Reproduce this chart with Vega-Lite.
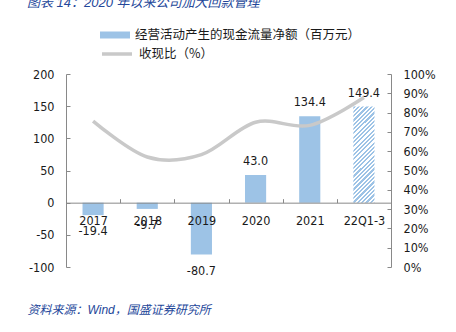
{
  "$schema": "https://vega.github.io/schema/vega-lite/v6.json",
  "width": 325,
  "height": 193,
  "autosize": {"type": "none"},
  "padding": {"left": 66, "top": 74, "right": 65, "bottom": 65},
  "background": "white",
  "title": {
    "text": "图表 14：2020 年以来公司加大回款管理",
    "anchor": "start",
    "orient": "top",
    "frame": "group",
    "dx": -39,
    "offset": 10,
    "font": "Liberation Sans, Noto Sans CJK SC",
    "fontSize": 13,
    "fontStyle": "italic",
    "fontWeight": "normal",
    "color": "#24479A"
  },
  "config": {
    "locale": {"number": {"decimal": ".", "thousands": ",", "grouping": [3], "currency": ["$", ""], "minus": "-"}},
    "view": {"stroke": null},
    "axis": {
      "labelFont": "DejaVu Sans Condensed, DejaVu Sans",
      "labelFontSize": 12.5,
      "labelColor": "#1a1a1a",
      "domainColor": "#898989",
      "tickColor": "#898989",
      "tickSize": -4,
      "labelPadding": 16,
      "grid": false
    },
    "legend": {
      "labelFont": "Noto Sans CJK SC",
      "labelFontSize": 12.5,
      "labelColor": "#1a1a1a",
      "labelLimit": 400,
      "padding": 0
    }
  },
  "data": {
    "values": [
      {"period": "2017", "cash": -19.4, "ratio": 0.756},
      {"period": "2018", "cash": -9.7, "ratio": 0.57},
      {"period": "2019", "cash": -80.7, "ratio": 0.582},
      {"period": "2020", "cash": 43.0, "ratio": 0.75},
      {"period": "2021", "cash": 134.4, "ratio": 0.734},
      {"period": "22Q1-3", "cash": 149.4, "ratio": 0.878}
    ]
  },
  "encoding": {
    "x": {
      "field": "period",
      "type": "nominal",
      "sort": null,
      "scale": {"paddingInner": 0, "paddingOuter": 0},
      "axis": {
        "orient": "bottom",
        "offset": -64.33,
        "labelAngle": 0,
        "tickBand": "extent",
        "zindex": 1,
        "title": "资料来源：Wind，国盛证券研究所",
        "titleX": -39,
        "titleY": 107,
        "titleAlign": "left",
        "titleAnchor": "start",
        "titleBaseline": "middle",
        "titleFont": "Liberation Sans, Noto Sans CJK SC",
        "titleFontSize": 12,
        "titleFontStyle": "italic",
        "titleFontWeight": "normal",
        "titleColor": "#24479A"
      }
    }
  },
  "layer": [
    {
      "encoding": {
        "y": {
          "field": "cash",
          "type": "quantitative",
          "scale": {"domain": [-100, 200], "nice": false, "zero": false},
          "axis": {"orient": "left", "values": [-100, -50, 0, 50, 100, 150, 200], "title": null}
        }
      },
      "layer": [
        {
          "transform": [{"filter": "datum.period !== '22Q1-3'"}],
          "mark": {"type": "bar", "width": {"band": 0.39}},
          "encoding": {
            "fill": {
              "datum": "经营活动产生的现金流量净额（百万元）",
              "scale": {"range": ["#9DC3E6"]},
              "legend": {
                "orient": "none",
                "legendX": 34,
                "legendY": -54,
                "title": null,
                "symbolType": "M-1,-0.233H1V0.233H-1Z",
                "symbolSize": 900,
                "symbolStrokeWidth": 0,
                "labelOffset": 5
              }
            }
          }
        },
        {
          "transform": [{"filter": "datum.period === '22Q1-3'"}],
          "mark": {
            "type": "bar",
            "width": {"band": 0.39},
            "fill": {
              "gradient": "linear",
              "x1": 0, "y1": 0, "x2": 0.263, "y2": 1.2,
              "stops": [
                {"offset": 0, "color": "#9DC3E6"}, {"offset": 0.01786, "color": "#9DC3E6"}, {"offset": 0.01786, "color": "#FFFFFF"}, {"offset": 0.03571, "color": "#FFFFFF"},
                {"offset": 0.03571, "color": "#9DC3E6"}, {"offset": 0.05357, "color": "#9DC3E6"}, {"offset": 0.05357, "color": "#FFFFFF"}, {"offset": 0.07143, "color": "#FFFFFF"},
                {"offset": 0.07143, "color": "#9DC3E6"}, {"offset": 0.08929, "color": "#9DC3E6"}, {"offset": 0.08929, "color": "#FFFFFF"}, {"offset": 0.10714, "color": "#FFFFFF"},
                {"offset": 0.10714, "color": "#9DC3E6"}, {"offset": 0.125, "color": "#9DC3E6"}, {"offset": 0.125, "color": "#FFFFFF"}, {"offset": 0.14286, "color": "#FFFFFF"},
                {"offset": 0.14286, "color": "#9DC3E6"}, {"offset": 0.16071, "color": "#9DC3E6"}, {"offset": 0.16071, "color": "#FFFFFF"}, {"offset": 0.17857, "color": "#FFFFFF"},
                {"offset": 0.17857, "color": "#9DC3E6"}, {"offset": 0.19643, "color": "#9DC3E6"}, {"offset": 0.19643, "color": "#FFFFFF"}, {"offset": 0.21429, "color": "#FFFFFF"},
                {"offset": 0.21429, "color": "#9DC3E6"}, {"offset": 0.23214, "color": "#9DC3E6"}, {"offset": 0.23214, "color": "#FFFFFF"}, {"offset": 0.25, "color": "#FFFFFF"},
                {"offset": 0.25, "color": "#9DC3E6"}, {"offset": 0.26786, "color": "#9DC3E6"}, {"offset": 0.26786, "color": "#FFFFFF"}, {"offset": 0.28571, "color": "#FFFFFF"},
                {"offset": 0.28571, "color": "#9DC3E6"}, {"offset": 0.30357, "color": "#9DC3E6"}, {"offset": 0.30357, "color": "#FFFFFF"}, {"offset": 0.32143, "color": "#FFFFFF"},
                {"offset": 0.32143, "color": "#9DC3E6"}, {"offset": 0.33929, "color": "#9DC3E6"}, {"offset": 0.33929, "color": "#FFFFFF"}, {"offset": 0.35714, "color": "#FFFFFF"},
                {"offset": 0.35714, "color": "#9DC3E6"}, {"offset": 0.375, "color": "#9DC3E6"}, {"offset": 0.375, "color": "#FFFFFF"}, {"offset": 0.39286, "color": "#FFFFFF"},
                {"offset": 0.39286, "color": "#9DC3E6"}, {"offset": 0.41071, "color": "#9DC3E6"}, {"offset": 0.41071, "color": "#FFFFFF"}, {"offset": 0.42857, "color": "#FFFFFF"},
                {"offset": 0.42857, "color": "#9DC3E6"}, {"offset": 0.44643, "color": "#9DC3E6"}, {"offset": 0.44643, "color": "#FFFFFF"}, {"offset": 0.46429, "color": "#FFFFFF"},
                {"offset": 0.46429, "color": "#9DC3E6"}, {"offset": 0.48214, "color": "#9DC3E6"}, {"offset": 0.48214, "color": "#FFFFFF"}, {"offset": 0.5, "color": "#FFFFFF"},
                {"offset": 0.5, "color": "#9DC3E6"}, {"offset": 0.51786, "color": "#9DC3E6"}, {"offset": 0.51786, "color": "#FFFFFF"}, {"offset": 0.53571, "color": "#FFFFFF"},
                {"offset": 0.53571, "color": "#9DC3E6"}, {"offset": 0.55357, "color": "#9DC3E6"}, {"offset": 0.55357, "color": "#FFFFFF"}, {"offset": 0.57143, "color": "#FFFFFF"},
                {"offset": 0.57143, "color": "#9DC3E6"}, {"offset": 0.58929, "color": "#9DC3E6"}, {"offset": 0.58929, "color": "#FFFFFF"}, {"offset": 0.60714, "color": "#FFFFFF"},
                {"offset": 0.60714, "color": "#9DC3E6"}, {"offset": 0.625, "color": "#9DC3E6"}, {"offset": 0.625, "color": "#FFFFFF"}, {"offset": 0.64286, "color": "#FFFFFF"},
                {"offset": 0.64286, "color": "#9DC3E6"}, {"offset": 0.66071, "color": "#9DC3E6"}, {"offset": 0.66071, "color": "#FFFFFF"}, {"offset": 0.67857, "color": "#FFFFFF"},
                {"offset": 0.67857, "color": "#9DC3E6"}, {"offset": 0.69643, "color": "#9DC3E6"}, {"offset": 0.69643, "color": "#FFFFFF"}, {"offset": 0.71429, "color": "#FFFFFF"},
                {"offset": 0.71429, "color": "#9DC3E6"}, {"offset": 0.73214, "color": "#9DC3E6"}, {"offset": 0.73214, "color": "#FFFFFF"}, {"offset": 0.75, "color": "#FFFFFF"},
                {"offset": 0.75, "color": "#9DC3E6"}, {"offset": 0.76786, "color": "#9DC3E6"}, {"offset": 0.76786, "color": "#FFFFFF"}, {"offset": 0.78571, "color": "#FFFFFF"},
                {"offset": 0.78571, "color": "#9DC3E6"}, {"offset": 0.80357, "color": "#9DC3E6"}, {"offset": 0.80357, "color": "#FFFFFF"}, {"offset": 0.82143, "color": "#FFFFFF"},
                {"offset": 0.82143, "color": "#9DC3E6"}, {"offset": 0.83929, "color": "#9DC3E6"}, {"offset": 0.83929, "color": "#FFFFFF"}, {"offset": 0.85714, "color": "#FFFFFF"},
                {"offset": 0.85714, "color": "#9DC3E6"}, {"offset": 0.875, "color": "#9DC3E6"}, {"offset": 0.875, "color": "#FFFFFF"}, {"offset": 0.89286, "color": "#FFFFFF"},
                {"offset": 0.89286, "color": "#9DC3E6"}, {"offset": 0.91071, "color": "#9DC3E6"}, {"offset": 0.91071, "color": "#FFFFFF"}, {"offset": 0.92857, "color": "#FFFFFF"},
                {"offset": 0.92857, "color": "#9DC3E6"}, {"offset": 0.94643, "color": "#9DC3E6"}, {"offset": 0.94643, "color": "#FFFFFF"}, {"offset": 0.96429, "color": "#FFFFFF"},
                {"offset": 0.96429, "color": "#9DC3E6"}, {"offset": 0.98214, "color": "#9DC3E6"}, {"offset": 0.98214, "color": "#FFFFFF"}, {"offset": 1, "color": "#FFFFFF"}
              ]
            }
          }
        },
        {
          "transform": [{"filter": "datum.cash > 0"}],
          "mark": {"type": "text", "baseline": "bottom", "dy": -7, "font": "DejaVu Sans Condensed, DejaVu Sans", "fontSize": 12.5, "color": "#1a1a1a"},
          "encoding": {"text": {"field": "cash", "type": "quantitative", "format": ".1f"}}
        },
        {
          "transform": [{"filter": "datum.cash < 0"}],
          "mark": {"type": "text", "baseline": "top", "dy": 10, "font": "DejaVu Sans Condensed, DejaVu Sans", "fontSize": 12.5, "color": "#1a1a1a"},
          "encoding": {"text": {"field": "cash", "type": "quantitative", "format": ".1f"}}
        }
      ]
    },
    {
      "mark": {"type": "line", "interpolate": "cardinal", "strokeWidth": 3.5},
      "encoding": {
        "y": {
          "field": "ratio",
          "type": "quantitative",
          "scale": {"domain": [0, 1], "nice": false},
          "axis": {"orient": "right", "format": ".0%", "values": [0, 0.1, 0.2, 0.3, 0.4, 0.5, 0.6, 0.7, 0.8, 0.9, 1], "title": null}
        },
        "stroke": {
          "datum": "收现比（%）",
          "scale": {"range": ["#C9C9C9"]},
          "legend": {
            "orient": "none",
            "legendX": 34,
            "legendY": -37,
            "title": null,
            "symbolType": "stroke",
            "symbolSize": 900,
            "symbolStrokeWidth": 3.5,
            "labelOffset": 5
          }
        }
      }
    }
  ],
  "resolve": {"scale": {"y": "independent"}}
}
